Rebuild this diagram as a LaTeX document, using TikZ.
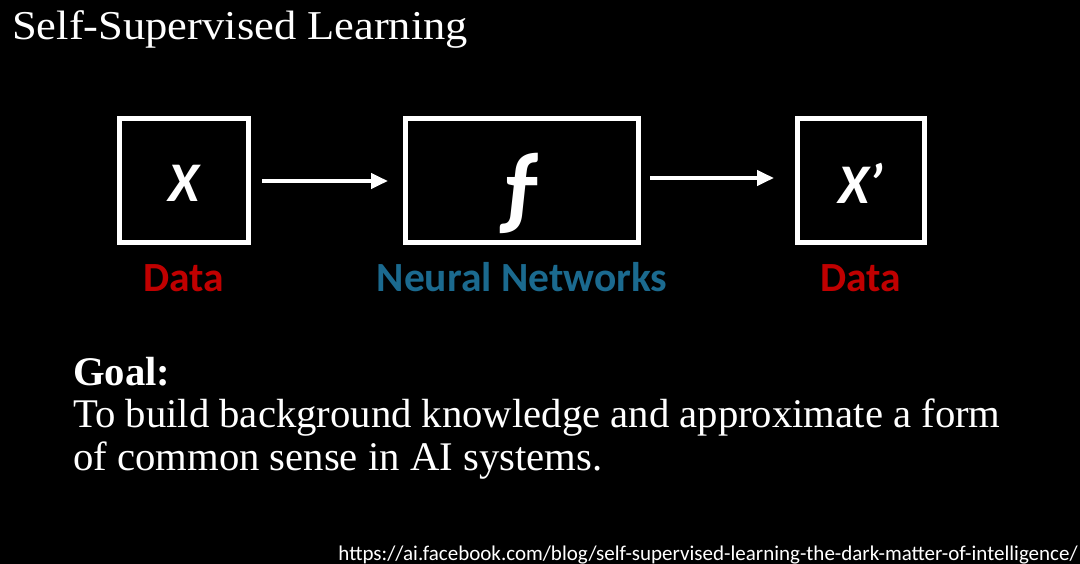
\documentclass[tikz,border=0pt]{standalone}
\usepackage{fontspec}
\setmainfont{Liberation Serif}
\newfontfamily\titlefont[FakeStretch=1.085]{Liberation Serif}
\newfontfamily\calib{Carlito}
\usetikzlibrary{arrows.meta}
\definecolor{datared}{HTML}{C00000}
\definecolor{nnblue}{HTML}{1B6A8F}
\begin{document}
\begin{tikzpicture}[x=1pt,y=-1pt,
  blk/.style={draw=white,line width=5pt,minimum height=124pt,inner sep=0pt},
  sym/.style={text=white,font=\calib\bfseries\itshape\fontsize{56}{60}\selectfont},
  lbl/.style={font=\calib\bfseries\fontsize{41.5}{44}\selectfont,anchor=base},
  flow/.style={draw=white,line width=4pt,-{Triangle[length=17pt,width=15pt]}},
  txt/.style={text=white,anchor=base west,inner sep=0pt}]
\fill[black] (0,0) rectangle (1080,564);
\useasboundingbox (0,0) rectangle (1080,564);
\node[txt,font=\titlefont\fontsize{41}{44}\selectfont] (title) at (12,40) {Self-Supervised Learning};
\node[blk,minimum width=129pt] (b1) at (184,181) {};
\node[blk,minimum width=233pt] (b2) at (522,181) {};
\node[blk,minimum width=127pt] (b3) at (861,181) {};
\node[sym] (x) at (184,183) {X};
\node[text=white,font=\calib\bfseries\fontsize{94}{96}\selectfont] (f) at (520,193) {ƒ};
\node[sym] (xp) at (861,183) {X’};
\coordinate (a1s) at (262,181);
\coordinate (a1e) at (388,181);
\coordinate (a2s) at (650,178);
\coordinate (a2e) at (774,178);
\draw[flow] (a1s) -- (a1e);
\draw[flow] (a2s) -- (a2e);
\node[lbl,text=datared] (d1) at (184,292) {Data};
\node[lbl,text=nnblue] (nn) at (522,292) {Neural Networks};
\node[lbl,text=datared] (d2) at (861,292) {Data};
\node[txt,font=\bfseries\fontsize{40.7}{44}\selectfont] (goal) at (73,385) {Goal:};
\node[txt,font=\fontsize{40.7}{44}\selectfont] (g1) at (73,427) {To build background knowledge and approximate a form};
\node[txt,font=\fontsize{40.7}{44}\selectfont] (g2) at (73,470) {of common sense in AI systems.};
\node[text=white,anchor=base east,inner sep=0pt,font=\calib\fontsize{21}{23}\selectfont] (url) at (1078,560) {https://ai.facebook.com/blog/self-supervised-learning-the-dark-matter-of-intelligence/};
\end{tikzpicture}
\end{document}
